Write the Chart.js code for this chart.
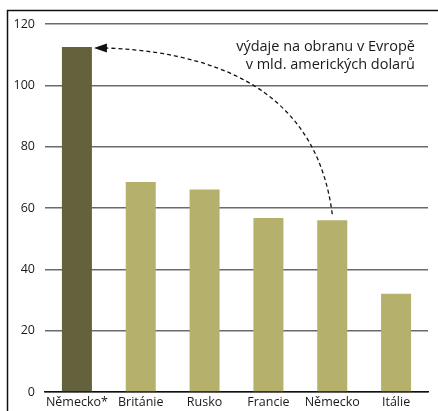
<!DOCTYPE html>
<html>
<head>
<meta charset="utf-8">
<script src="https://cdn.jsdelivr.net/npm/chart.js@4"></script>
<style>
  html, body { margin: 0; padding: 0; background: #fff; }
  #wrap { width: 438px; height: 411px; }
</style>
</head>
<body>
<div id="wrap"><canvas id="defenceChart" width="438" height="411"></canvas></div>
<script>
// data
var countries = ['Německo*', 'Británie', 'Rusko', 'Francie', 'Německo', 'Itálie'];
var spending = [112.5, 68.5, 66, 56.7, 56, 32];
var barColors = ['#64623d', '#b5b06c', '#b5b06c', '#b5b06c', '#b5b06c', '#b5b06c'];
var yTicks = [0, 20, 40, 60, 80, 100, 120];
var noteLines = ['výdaje na obranu v Evropě', 'v mld. amerických dolarů'];

var fontFamily = '"Open Sans", "DejaVu Sans", sans-serif';

// frame, note and the dashed arrow from Německo to Německo*
var extrasPlugin = {
    id: 'extras',
    afterDraw: function(chart) {
        var ctx = chart.ctx;
        var area = chart.chartArea;
        var x = chart.scales.x;
        var y = chart.scales.y;

        ctx.save();
        // frame
        ctx.strokeStyle = '#111';
        ctx.lineWidth = 1.5;
        ctx.beginPath();
        ctx.moveTo(7.5, chart.height);
        ctx.lineTo(7.5, 10.5);
        ctx.lineTo(chart.width, 10.5);
        ctx.stroke();

        // note
        ctx.fillStyle = '#1a1a1a';
        ctx.font = '14.5px ' + fontFamily;
        ctx.textAlign = 'right';
        ctx.textBaseline = 'middle';
        ctx.fillText(noteLines[0], area.right - 13, 47);
        ctx.fillText(noteLines[1], area.right - 13, 65);

        // dashed arrow
        var meta = chart.getDatasetMeta(0);
        var half = meta.data[0].width / 2;
        var sx = x.getPixelForValue(4);
        var sy = y.getPixelForValue(spending[4]) - 6;
        var ex = x.getPixelForValue(0) + half + 14;
        var ey = y.getPixelForValue(spending[0]) + 1;
        ctx.strokeStyle = '#111';
        ctx.lineWidth = 1.3;
        ctx.setLineDash([4, 3]);
        ctx.beginPath();
        ctx.moveTo(sx, sy);
        ctx.quadraticCurveTo(sx - 20, ey + 8, ex, ey);
        ctx.stroke();
        ctx.setLineDash([]);
        ctx.fillStyle = '#111';
        ctx.beginPath();
        ctx.moveTo(ex - 12, ey);
        ctx.lineTo(ex + 1, ey - 4.5);
        ctx.lineTo(ex + 1, ey + 4.5);
        ctx.closePath();
        ctx.fill();
        ctx.restore();
    }
};

var ctx = document.getElementById('defenceChart').getContext('2d');
var defenceChart = new Chart(ctx, {
    type: 'bar',
    data: {
        labels: countries,
        datasets: [{
            data: spending,
            backgroundColor: barColors,
            borderWidth: 0,
            barPercentage: 0.47,
            categoryPercentage: 1
        }]
    },
    options: {
        responsive: false,
        animation: false,
        layout: { padding: { left: 8, top: 24, right: 10, bottom: 0 } },
        plugins: {
            legend: { display: false },
            tooltip: { enabled: false }
        },
        scales: {
            x: {
                grid: { display: false, drawTicks: false },
                border: { color: '#111', width: 1.5 },
                ticks: {
                    color: '#1a1a1a',
                    font: { family: fontFamily, size: 12.5 },
                    padding: 3,
                    maxRotation: 0,
                    autoSkip: false
                },
                afterFit: function(scale) { scale.height = 19; }
            },
            y: {
                min: 0,
                max: 120,
                afterBuildTicks: function(scale) {
                    scale.ticks = yTicks.map(function(v) { return { value: v }; });
                },
                grid: { color: '#6a6a6a', lineWidth: 1.5, drawTicks: false },
                border: { display: false },
                ticks: {
                    color: '#1a1a1a',
                    font: { family: fontFamily, size: 12.5 },
                    padding: 10
                },
                afterFit: function(scale) { scale.width = 37; }
            }
        }
    },
    plugins: [extrasPlugin]
});
</script>
</body>
</html>
